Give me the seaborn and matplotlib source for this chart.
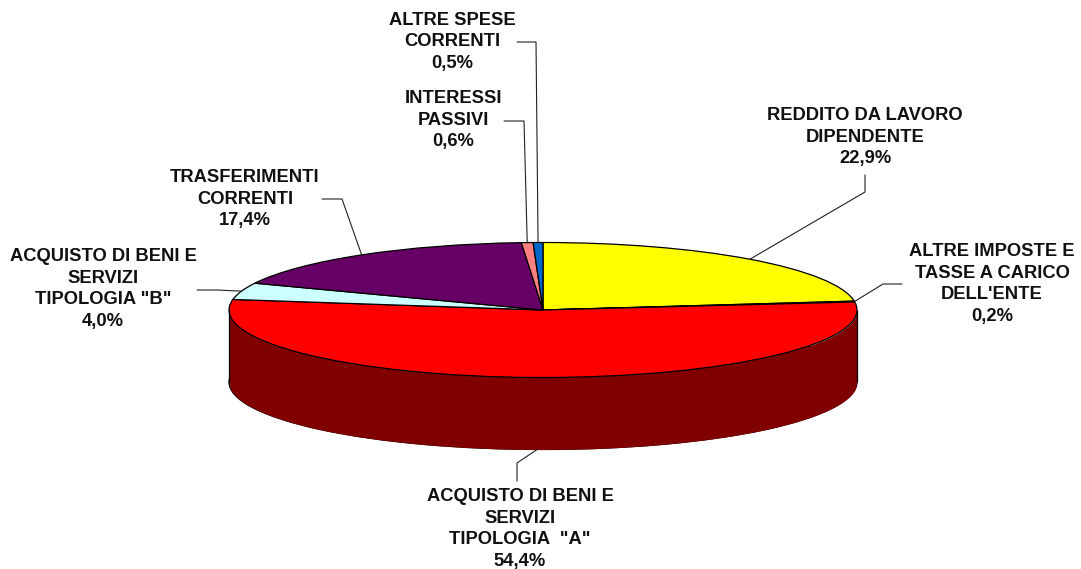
import numpy as np
import seaborn as sns
import matplotlib.pyplot as plt

sns.set_theme(style="white")
plt.rcParams['font.family'] = ['Liberation Sans', 'DejaVu Sans']

# slices, clockwise from 12 o'clock
labels = ['REDDITO DA LAVORO\nDIPENDENTE',
          "ALTRE IMPOSTE E\nTASSE A CARICO\nDELL'ENTE",
          'ACQUISTO DI BENI E\nSERVIZI\nTIPOLOGIA  "A"',
          'ACQUISTO DI BENI E\nSERVIZI\nTIPOLOGIA "B"',
          'TRASFERIMENTI\nCORRENTI',
          'INTERESSI\nPASSIVI',
          'ALTRE SPESE\nCORRENTI']
values = [22.9, 0.2, 54.4, 4.0, 17.4, 0.6, 0.5]
colors = ['#FFFF00', '#000000', '#FF0000', '#CCFFFF', '#660066', '#FF8080', '#0066CC']
side_color = '#800000'

W, H = 1081, 569
CX, CY, RX, RY, DEPTH = 543, 310, 314, 67.5, 72

# label centre in pixels, then the elbow points of each leader
label_pos = [(865, 137), (992, 284), (520, 529), (103, 289), (245, 199), (453, 120), (452, 42)]
leaders = [[(865, 175), (865, 192)],
           [(902, 284), (883, 284)],
           [(517, 481), (517, 463)],
           [(197, 290), (217, 290)],
           [(322, 199), (342, 199)],
           [(504, 121), (524, 121)],
           [(517, 42), (536, 42)]]


def to_data(px, py):
    return (px - CX) / RX, (CY - py) / RY


fig = plt.figure(figsize=(W / 100, H / 100), dpi=100)
ax = fig.add_axes([0, 0, 1, 1])
depth = DEPTH / RY

# bottom of the cylinder and its side, then the top
bottom, _ = ax.pie([sum(values)], colors=[side_color], center=(0, -depth), radius=1,
                   wedgeprops=dict(edgecolor='black', linewidth=0.9))
xs = np.linspace(-1, 1, 400)
rim = -np.sqrt(1 - xs ** 2)
ax.fill_between(xs, rim - depth, rim, color=side_color, linewidth=0)
ax.vlines([-1, 1], -depth, 0, color='black', linewidth=0.9)
top, _ = ax.pie(values, colors=colors, startangle=90, counterclock=False, radius=1,
                wedgeprops=dict(edgecolor='black', linewidth=0.9))

ax.set_aspect('auto')
ax.set_xlim(to_data(0, 0)[0], to_data(W, 0)[0])
ax.set_ylim(to_data(0, H)[1], to_data(0, 0)[1])

for wedge, label, value, pos, elbow in zip(top, labels, values, label_pos, leaders):
    text = f"{label}\n{value:.1f}%".replace('.', ',')
    x, y = to_data(*pos)
    ax.text(x, y, text, ha='center', va='center', fontsize=13.2, fontweight='bold',
            color='#111111', linespacing=1.37)

    mid = np.deg2rad((wedge.theta1 + wedge.theta2) / 2)
    ax_, ay_ = np.cos(mid), np.sin(mid)
    if ay_ < 0:
        ay_ -= depth
    pts = [to_data(*p) for p in elbow] + [(ax_, ay_)]
    ax.plot([p[0] for p in pts], [p[1] for p in pts], color='#222222', linewidth=0.8)

fig.savefig('out.png', dpi=100, facecolor='white')
